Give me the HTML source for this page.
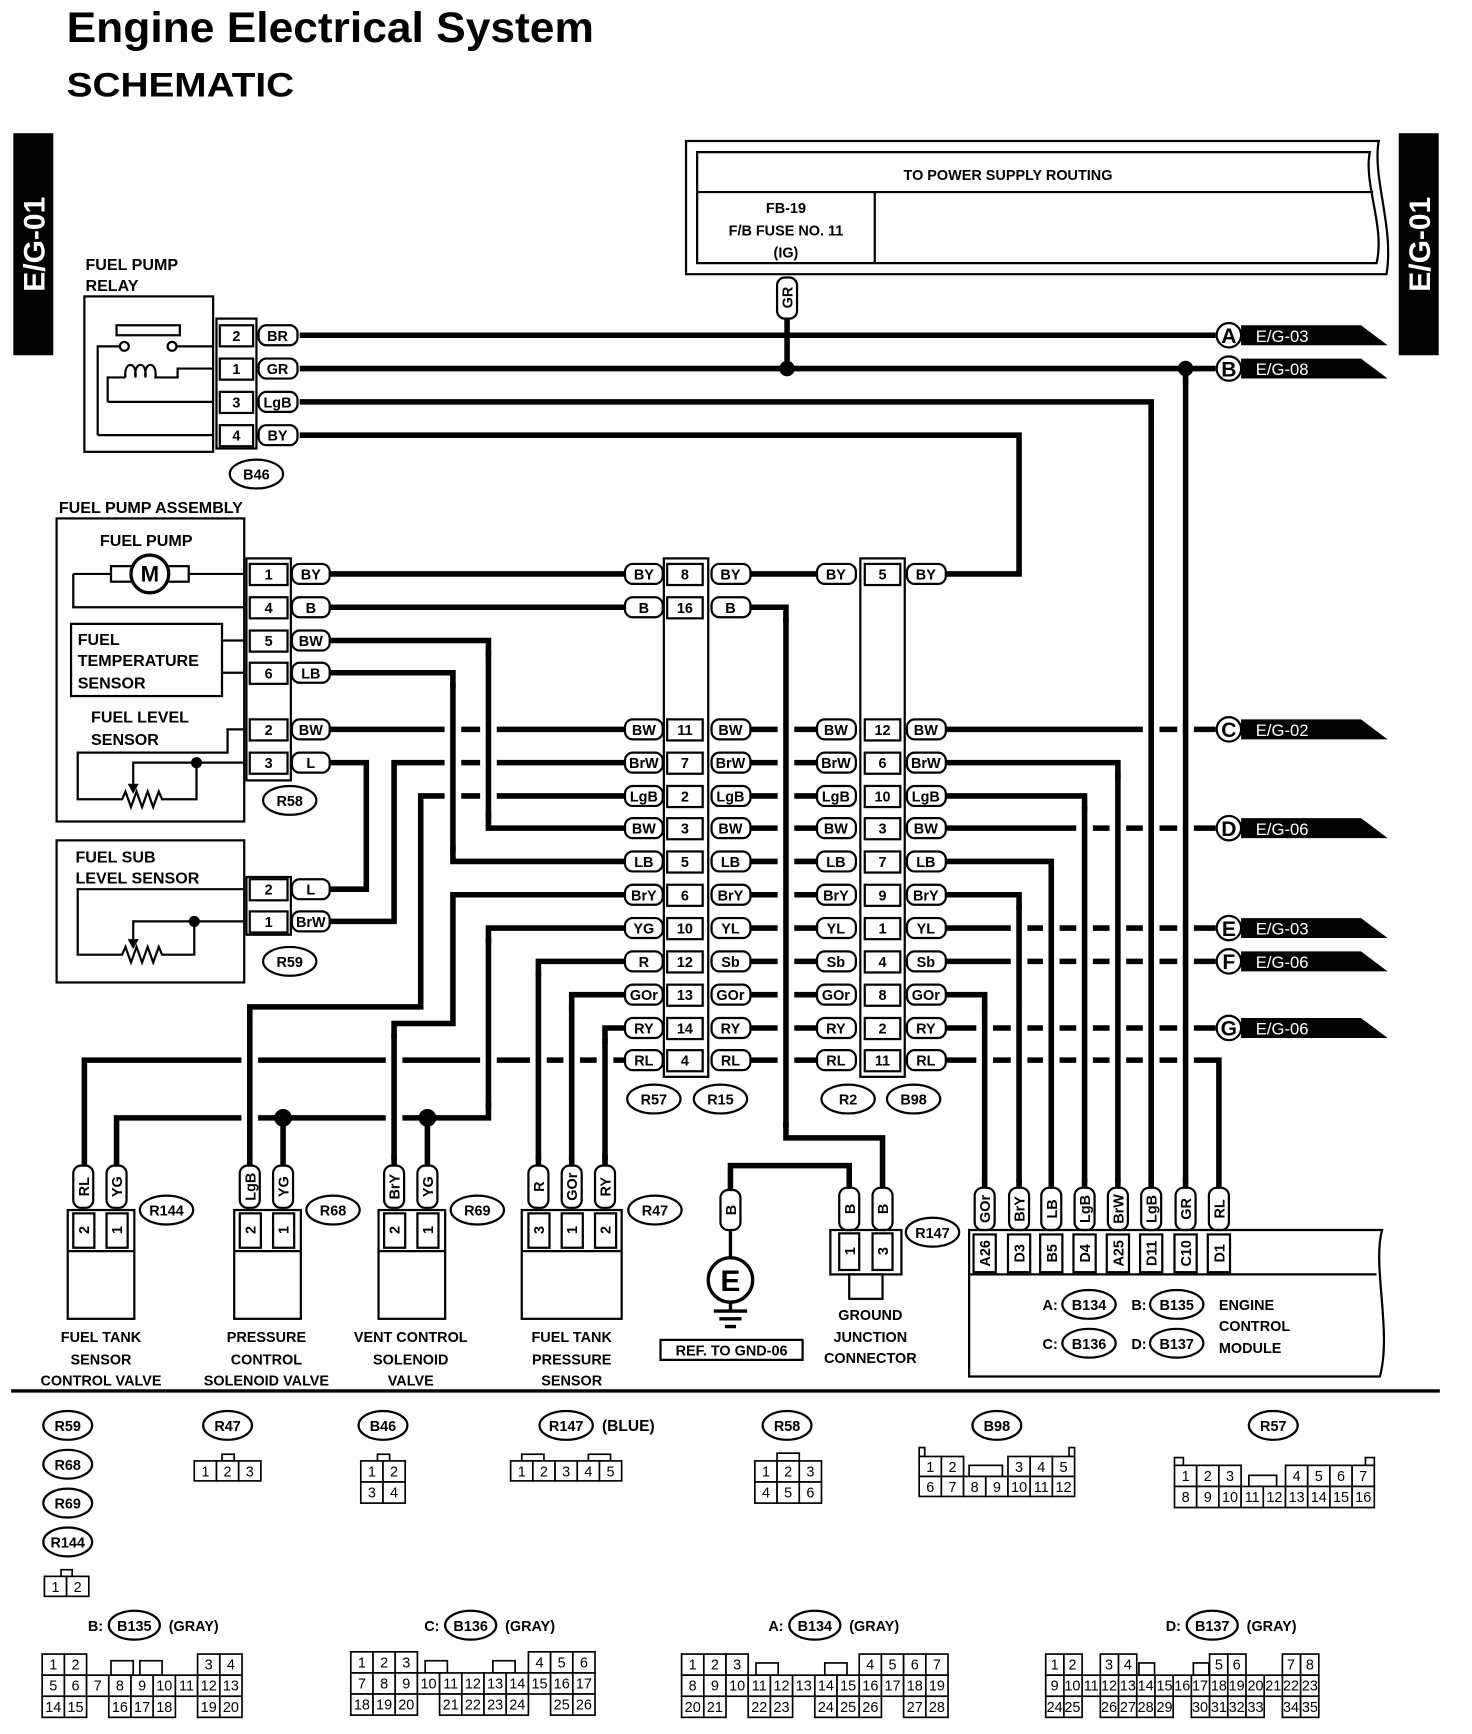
<!DOCTYPE html>
<html><head><meta charset="utf-8"><style>
html,body{margin:0;padding:0;background:#fff}
svg{display:block}
text{font-family:"Liberation Sans",Arial,sans-serif;font-weight:bold;font-size:13px;text-anchor:middle;fill:#000}
.w{stroke:#000;stroke-width:5;fill:none;stroke-linejoin:miter;stroke-linecap:butt}
.h{stroke:#fff;stroke-width:15;fill:none}
.p{fill:#fff;stroke:#000;stroke-width:2}
.b{fill:#fff;stroke:#000;stroke-width:2}
.t{fill:none;stroke:#000;stroke-width:2}
.l{text-anchor:start;font-size:14.5px}
.n{font-weight:normal;font-size:13px}
.c{fill:#fff;stroke:#000;stroke-width:1.5}
</style></head><body>
<svg width="1472" height="1734" viewBox="0 0 1326 1562" preserveAspectRatio="none" xmlns="http://www.w3.org/2000/svg">
<rect width="1326" height="1562" fill="#fff"/>
<text x="60" y="38" textLength="475" lengthAdjust="spacingAndGlyphs" style="font-size:38px;text-anchor:start">Engine Electrical System</text>
<text x="60" y="87" textLength="205" lengthAdjust="spacingAndGlyphs" style="font-size:31px;text-anchor:start">SCHEMATIC</text>
<rect x="12" y="120" width="36" height="200" fill="#000"/>
<text x="30" y="230" transform="rotate(-90 30 220)" style="fill:#fff;font-size:27px">E/G-01</text>
<rect x="1260" y="120" width="36" height="200" fill="#000"/>
<text x="1278" y="230" transform="rotate(-90 1278 220)" style="fill:#fff;font-size:27px">E/G-01</text>

<!-- power box -->
<path d="M618 127 H1242 C1236 160 1256 205 1249 247 H618 Z" class="t"/>
<path d="M628 137 H1234 C1228 165 1248 205 1240 237 H628 Z" class="t"/>
<line x1="628" y1="173" x2="1237" y2="173" class="t"/>
<line x1="788" y1="173" x2="788" y2="237" class="t"/>
<text x="908" y="162">TO POWER SUPPLY ROUTING</text>
<text x="708" y="192">FB-19</text>
<text x="708" y="212">F/B FUSE NO. 11</text>
<text x="708" y="232">(IG)</text>

<!-- wires -->
<g class="w">
<path d="M270 302 H1095"/><path d="M270 332 H1095"/>
<path d="M270 362 H1037 V1070"/>
<path d="M270 392 H918 V517 H852"/>
<path d="M709 287 V332"/><path d="M1068 332 V1070"/>
<path d="M297 517 H563"/><path d="M297 547 H563"/>
<path d="M297 577 H440 V746 H563"/>
<path d="M297 606 H408 V776 H563"/>
<path d="M297 657 H563"/>
<path d="M297 687 H330 V801 H297"/>
<path d="M297 830 H355 V687 H563"/>
<path d="M563 717 H379 V907 H225 V1050"/>
<path d="M563 806 H408 V922 H355 V1050"/>
<path d="M563 836 H440 V1007 H105 V1050"/>
<path d="M255 1007 V1050"/><path d="M385 1007 V1050"/>
<path d="M563 866 H485 V1050"/>
<path d="M563 896 H515 V1050"/>
<path d="M563 926 H545 V1050"/>
<path d="M563 955 H76 V1050"/>
<path d="M676 517 H736"/>
<path d="M676 657 H736 M676 687 H736 M676 717 H736 M676 746 H736 M676 776 H736 M676 806 H736 M676 836 H736 M676 866 H736 M676 896 H736 M676 926 H736 M676 955 H736"/>
<path d="M676 547 H708 V1025 H795 V1070"/>
<path d="M658 1072 V1050 H765 V1070"/>
<path d="M852 657 H1095"/>
<path d="M852 687 H1007 V1070"/>
<path d="M852 717 H977 V1070"/>
<path d="M852 746 H1095"/>
<path d="M852 776 H947 V1070"/>
<path d="M852 806 H918 V1070"/>
<path d="M852 836 H1095"/><path d="M852 866 H1095"/>
<path d="M852 896 H887 V1070"/>
<path d="M852 926 H1095"/>
<path d="M852 955 H1098 V1070"/>
</g>
<g class="h">
<path d="M408 620 V762 M440 591 V732 M225 921 V1040 M355 936 V1040 M440 850 V993 M485 880 V1040 M515 910 V1040 M545 940 V1040 M708 561 V1011 M918 820 V1062 M947 790 V1062 M977 731 V1062 M1007 701 V1062 M1037 376 V1062 M1068 346 V1062 M887 910 V1062"/>
</g>
<g class="w">
<path d="M408 615 V767 M440 586 V737 M225 916 V1045 M355 931 V1045 M440 845 V998 M485 875 V1045 M515 905 V1045 M545 935 V1045 M708 556 V1016 M918 815 V1065 M947 785 V1065 M977 726 V1065 M1007 696 V1065 M1037 371 V1065 M1068 341 V1065 M887 905 V1065"/>
</g>
<circle cx="709" cy="332" r="7"/><circle cx="1068" cy="332" r="7"/>
<circle cx="255" cy="1007" r="8"/><circle cx="385" cy="1007" r="8"/>

<!-- right flags -->
<g>
<polygon points="1118,293 1226,293 1250,311 1118,311"/><circle cx="1107" cy="302" r="11" class="b"/><text x="1107" y="309" style="font-size:19px">A</text><text x="1155" y="308" style="fill:#fff;font-weight:normal;font-size:15px">E/G-03</text>
<polygon points="1118,323 1226,323 1250,341 1118,341"/><circle cx="1107" cy="332" r="11" class="b"/><text x="1107" y="339" style="font-size:19px">B</text><text x="1155" y="338" style="fill:#fff;font-weight:normal;font-size:15px">E/G-08</text>
<polygon points="1118,648 1226,648 1250,666 1118,666"/><circle cx="1107" cy="657" r="11" class="b"/><text x="1107" y="664" style="font-size:19px">C</text><text x="1155" y="663" style="fill:#fff;font-weight:normal;font-size:15px">E/G-02</text>
<polygon points="1118,737 1226,737 1250,755 1118,755"/><circle cx="1107" cy="746" r="11" class="b"/><text x="1107" y="753" style="font-size:19px">D</text><text x="1155" y="752" style="fill:#fff;font-weight:normal;font-size:15px">E/G-06</text>
<polygon points="1118,827 1226,827 1250,845 1118,845"/><circle cx="1107" cy="836" r="11" class="b"/><text x="1107" y="843" style="font-size:19px">E</text><text x="1155" y="842" style="fill:#fff;font-weight:normal;font-size:15px">E/G-03</text>
<polygon points="1118,857 1226,857 1250,875 1118,875"/><circle cx="1107" cy="866" r="11" class="b"/><text x="1107" y="873" style="font-size:19px">F</text><text x="1155" y="872" style="fill:#fff;font-weight:normal;font-size:15px">E/G-06</text>
<polygon points="1118,917 1226,917 1250,935 1118,935"/><circle cx="1107" cy="926" r="11" class="b"/><text x="1107" y="933" style="font-size:19px">G</text><text x="1155" y="932" style="fill:#fff;font-weight:normal;font-size:15px">E/G-06</text>
</g>

<!-- relay -->
<text x="77" y="243" class="l">FUEL PUMP</text><text x="77" y="262" class="l">RELAY</text>
<rect x="76" y="267" width="116" height="140" class="t"/>
<rect x="105" y="293" width="57" height="9" class="t"/>
<g class="t"><path d="M88 392 H192 M88 392 V312 H108 M159 312 H192 M97 362 H192 M97 362 V340 H113 M145 340 H160 V332 H192"/>
<path d="M113 340 C111 325 124 325 122 340 C120 325 133 325 131 340 C129 325 142 325 140 340 H145"/></g>
<circle cx="112" cy="312" r="4" class="b"/><circle cx="155" cy="312" r="4" class="b"/>
<rect x="195" y="287" width="36" height="117" class="t"/>
<g class="b"><rect x="198" y="293" width="30" height="19"/><rect x="198" y="323" width="30" height="19"/><rect x="198" y="353" width="30" height="19"/><rect x="198" y="383" width="30" height="19"/></g>
<text x="213" y="307">2</text><text x="213" y="337">1</text><text x="213" y="367">3</text><text x="213" y="397">4</text>
<g class="p"><rect x="233" y="293" width="35" height="18" rx="7"/><rect x="233" y="323" width="35" height="18" rx="7"/><rect x="233" y="353" width="35" height="18" rx="7"/><rect x="233" y="383" width="35" height="18" rx="7"/></g>
<text x="250" y="307">BR</text><text x="250" y="337">GR</text><text x="250" y="367">LgB</text><text x="250" y="397">BY</text>
<ellipse cx="231" cy="427" rx="24" ry="13" class="b"/><text x="231" y="432">B46</text>
<rect x="700" y="250" width="18" height="37" rx="7" class="p"/><text x="709" y="273" transform="rotate(-90 709 268)">GR</text>

<!-- fuel pump assembly -->
<text x="53" y="462" class="l">FUEL PUMP ASSEMBLY</text>
<rect x="51" y="467" width="169" height="273" class="t"/>
<text x="90" y="492" class="l">FUEL PUMP</text>
<g class="t"><path d="M66 517 V547 H220 M66 517 H100 M170 517 H220"/>
<rect x="100" y="510" width="70" height="14"/></g>
<circle cx="135" cy="517" r="17" class="b" style="stroke-width:3"/><text x="135" y="524" style="font-size:20px">M</text>
<rect x="64" y="562" width="136" height="65" class="t"/>
<text x="70" y="581" class="l">FUEL</text><text x="70" y="600" class="l">TEMPERATURE</text><text x="70" y="620" class="l">SENSOR</text>
<path d="M200 577 H220 M200 606 H220" class="t"/>
<text x="82" y="651" class="l">FUEL LEVEL</text><text x="82" y="671" class="l">SENSOR</text>
<path class="t" d="M220 657 H205 V678 H70 V720 H110 L113 713 L118 727 L123 713 L128 727 L133 713 L138 727 L143 713 L146 720 H177 V687 H220 M177 687 H120 V708"/>
<polygon points="115,706 125,706 120,715"/><circle cx="177" cy="687" r="5"/>
<rect x="51" y="757" width="169" height="128" class="t"/>
<text x="68" y="777" class="l">FUEL SUB</text><text x="68" y="796" class="l">LEVEL SENSOR</text>
<path class="t" d="M220 801 H70 V860 H110 L113 853 L118 867 L123 853 L128 867 L133 853 L138 867 L143 853 L146 860 H175 V830 H220 M175 830 H120 V848"/>
<polygon points="115,846 125,846 120,855"/><circle cx="175" cy="830" r="5"/>

<!-- R58 / R59 -->
<rect x="222" y="503" width="40" height="200" class="t"/>
<rect x="222" y="790" width="40" height="52" class="t"/>
<g class="b">
<rect x="225" y="508" width="34" height="19"/><rect x="225" y="538" width="34" height="19"/><rect x="225" y="568" width="34" height="19"/><rect x="225" y="597" width="34" height="19"/><rect x="225" y="648" width="34" height="19"/><rect x="225" y="678" width="34" height="19"/><rect x="225" y="792" width="34" height="19"/><rect x="225" y="821" width="34" height="19"/></g>
<text x="242" y="522">1</text><text x="242" y="552">4</text><text x="242" y="582">5</text><text x="242" y="611">6</text><text x="242" y="662">2</text><text x="242" y="692">3</text><text x="242" y="806">2</text><text x="242" y="835">1</text>
<g class="p">
<rect x="263" y="508" width="34" height="18" rx="7"/><rect x="263" y="538" width="34" height="18" rx="7"/><rect x="263" y="568" width="34" height="18" rx="7"/><rect x="263" y="597" width="34" height="18" rx="7"/><rect x="263" y="648" width="34" height="18" rx="7"/><rect x="263" y="678" width="34" height="18" rx="7"/><rect x="263" y="792" width="34" height="18" rx="7"/><rect x="263" y="821" width="34" height="18" rx="7"/></g>
<text x="280" y="522">BY</text><text x="280" y="552">B</text><text x="280" y="582">BW</text><text x="280" y="611">LB</text><text x="280" y="662">BW</text><text x="280" y="692">L</text><text x="280" y="806">L</text><text x="280" y="835">BrW</text>
<ellipse cx="261" cy="721" rx="24" ry="13" class="b"/><text x="261" y="726">R58</text>
<ellipse cx="261" cy="866" rx="24" ry="13" class="b"/><text x="261" y="871">R59</text>

<!-- R57/R15 and R2/B98 -->
<rect x="598" y="503" width="40" height="467" class="t"/>
<rect x="775" y="503" width="40" height="467" class="t"/>
<g class="b">
<rect x="601" y="508" width="32" height="19"/><rect x="601" y="538" width="32" height="19"/>
<rect x="601" y="648" width="32" height="19"/><rect x="601" y="678" width="32" height="19"/><rect x="601" y="708" width="32" height="19"/><rect x="601" y="737" width="32" height="19"/><rect x="601" y="767" width="32" height="19"/><rect x="601" y="797" width="32" height="19"/><rect x="601" y="827" width="32" height="19"/><rect x="601" y="857" width="32" height="19"/><rect x="601" y="887" width="32" height="19"/><rect x="601" y="917" width="32" height="19"/><rect x="601" y="946" width="32" height="19"/>
<rect x="779" y="508" width="32" height="19"/>
<rect x="779" y="648" width="32" height="19"/><rect x="779" y="678" width="32" height="19"/><rect x="779" y="708" width="32" height="19"/><rect x="779" y="737" width="32" height="19"/><rect x="779" y="767" width="32" height="19"/><rect x="779" y="797" width="32" height="19"/><rect x="779" y="827" width="32" height="19"/><rect x="779" y="857" width="32" height="19"/><rect x="779" y="887" width="32" height="19"/><rect x="779" y="917" width="32" height="19"/><rect x="779" y="946" width="32" height="19"/>
</g>
<g>
<text x="617" y="522">8</text><text x="617" y="552">16</text><text x="617" y="662">11</text><text x="617" y="692">7</text><text x="617" y="722">2</text><text x="617" y="751">3</text><text x="617" y="781">5</text><text x="617" y="811">6</text><text x="617" y="841">10</text><text x="617" y="871">12</text><text x="617" y="901">13</text><text x="617" y="931">14</text><text x="617" y="960">4</text>
<text x="795" y="522">5</text><text x="795" y="662">12</text><text x="795" y="692">6</text><text x="795" y="722">10</text><text x="795" y="751">3</text><text x="795" y="781">7</text><text x="795" y="811">9</text><text x="795" y="841">1</text><text x="795" y="871">4</text><text x="795" y="901">8</text><text x="795" y="931">2</text><text x="795" y="960">11</text>
</g>
<g class="p">
<rect x="563" y="508" width="34" height="18" rx="7"/><rect x="563" y="538" width="34" height="18" rx="7"/><rect x="563" y="648" width="34" height="18" rx="7"/><rect x="563" y="678" width="34" height="18" rx="7"/><rect x="563" y="708" width="34" height="18" rx="7"/><rect x="563" y="737" width="34" height="18" rx="7"/><rect x="563" y="767" width="34" height="18" rx="7"/><rect x="563" y="797" width="34" height="18" rx="7"/><rect x="563" y="827" width="34" height="18" rx="7"/><rect x="563" y="857" width="34" height="18" rx="7"/><rect x="563" y="887" width="34" height="18" rx="7"/><rect x="563" y="917" width="34" height="18" rx="7"/><rect x="563" y="946" width="34" height="18" rx="7"/>
<rect x="641" y="508" width="35" height="18" rx="7"/><rect x="641" y="538" width="35" height="18" rx="7"/><rect x="641" y="648" width="35" height="18" rx="7"/><rect x="641" y="678" width="35" height="18" rx="7"/><rect x="641" y="708" width="35" height="18" rx="7"/><rect x="641" y="737" width="35" height="18" rx="7"/><rect x="641" y="767" width="35" height="18" rx="7"/><rect x="641" y="797" width="35" height="18" rx="7"/><rect x="641" y="827" width="35" height="18" rx="7"/><rect x="641" y="857" width="35" height="18" rx="7"/><rect x="641" y="887" width="35" height="18" rx="7"/><rect x="641" y="917" width="35" height="18" rx="7"/><rect x="641" y="946" width="35" height="18" rx="7"/>
<rect x="736" y="508" width="35" height="18" rx="7"/><rect x="736" y="648" width="35" height="18" rx="7"/><rect x="736" y="678" width="35" height="18" rx="7"/><rect x="736" y="708" width="35" height="18" rx="7"/><rect x="736" y="737" width="35" height="18" rx="7"/><rect x="736" y="767" width="35" height="18" rx="7"/><rect x="736" y="797" width="35" height="18" rx="7"/><rect x="736" y="827" width="35" height="18" rx="7"/><rect x="736" y="857" width="35" height="18" rx="7"/><rect x="736" y="887" width="35" height="18" rx="7"/><rect x="736" y="917" width="35" height="18" rx="7"/><rect x="736" y="946" width="35" height="18" rx="7"/>
<rect x="817" y="508" width="35" height="18" rx="7"/><rect x="817" y="648" width="35" height="18" rx="7"/><rect x="817" y="678" width="35" height="18" rx="7"/><rect x="817" y="708" width="35" height="18" rx="7"/><rect x="817" y="737" width="35" height="18" rx="7"/><rect x="817" y="767" width="35" height="18" rx="7"/><rect x="817" y="797" width="35" height="18" rx="7"/><rect x="817" y="827" width="35" height="18" rx="7"/><rect x="817" y="857" width="35" height="18" rx="7"/><rect x="817" y="887" width="35" height="18" rx="7"/><rect x="817" y="917" width="35" height="18" rx="7"/><rect x="817" y="946" width="35" height="18" rx="7"/>
</g>
<g>
<text x="580" y="522">BY</text><text x="580" y="552">B</text><text x="580" y="662">BW</text><text x="580" y="692">BrW</text><text x="580" y="722">LgB</text><text x="580" y="751">BW</text><text x="580" y="781">LB</text><text x="580" y="811">BrY</text><text x="580" y="841">YG</text><text x="580" y="871">R</text><text x="580" y="901">GOr</text><text x="580" y="931">RY</text><text x="580" y="960">RL</text>
<text x="658" y="522">BY</text><text x="658" y="552">B</text><text x="658" y="662">BW</text><text x="658" y="692">BrW</text><text x="658" y="722">LgB</text><text x="658" y="751">BW</text><text x="658" y="781">LB</text><text x="658" y="811">BrY</text><text x="658" y="841">YL</text><text x="658" y="871">Sb</text><text x="658" y="901">GOr</text><text x="658" y="931">RY</text><text x="658" y="960">RL</text>
<text x="753" y="522">BY</text><text x="753" y="662">BW</text><text x="753" y="692">BrW</text><text x="753" y="722">LgB</text><text x="753" y="751">BW</text><text x="753" y="781">LB</text><text x="753" y="811">BrY</text><text x="753" y="841">YL</text><text x="753" y="871">Sb</text><text x="753" y="901">GOr</text><text x="753" y="931">RY</text><text x="753" y="960">RL</text>
<text x="834" y="522">BY</text><text x="834" y="662">BW</text><text x="834" y="692">BrW</text><text x="834" y="722">LgB</text><text x="834" y="751">BW</text><text x="834" y="781">LB</text><text x="834" y="811">BrY</text><text x="834" y="841">YL</text><text x="834" y="871">Sb</text><text x="834" y="901">GOr</text><text x="834" y="931">RY</text><text x="834" y="960">RL</text>
</g>
<g class="b"><ellipse cx="589" cy="990" rx="24" ry="13"/><ellipse cx="649" cy="990" rx="24" ry="13"/><ellipse cx="764" cy="990" rx="24" ry="13"/><ellipse cx="823" cy="990" rx="24" ry="13"/></g>
<text x="589" y="995">R57</text><text x="649" y="995">R15</text><text x="764" y="995">R2</text><text x="823" y="995">B98</text>

<!-- bottom components -->
<g class="p">
<rect x="66" y="1050" width="18" height="38" rx="7"/><rect x="96" y="1050" width="18" height="38" rx="7"/>
<rect x="216" y="1050" width="18" height="38" rx="7"/><rect x="246" y="1050" width="18" height="38" rx="7"/>
<rect x="346" y="1050" width="18" height="38" rx="7"/><rect x="376" y="1050" width="18" height="38" rx="7"/>
<rect x="476" y="1050" width="18" height="38" rx="7"/><rect x="506" y="1050" width="18" height="38" rx="7"/><rect x="536" y="1050" width="18" height="38" rx="7"/>
<rect x="649" y="1072" width="18" height="36" rx="7"/>
<rect x="756" y="1070" width="18" height="38" rx="7"/><rect x="786" y="1070" width="18" height="38" rx="7"/>
<rect x="878" y="1070" width="18" height="38" rx="7"/><rect x="909" y="1070" width="18" height="38" rx="7"/><rect x="938" y="1070" width="18" height="38" rx="7"/><rect x="968" y="1070" width="18" height="38" rx="7"/><rect x="998" y="1070" width="18" height="38" rx="7"/><rect x="1028" y="1070" width="18" height="38" rx="7"/><rect x="1059" y="1070" width="18" height="38" rx="7"/><rect x="1089" y="1070" width="18" height="38" rx="7"/>
</g>
<g>
<text x="75" y="1074" transform="rotate(-90 75 1069)">RL</text><text x="105" y="1074" transform="rotate(-90 105 1069)">YG</text>
<text x="225" y="1074" transform="rotate(-90 225 1069)">LgB</text><text x="255" y="1074" transform="rotate(-90 255 1069)">YG</text>
<text x="355" y="1074" transform="rotate(-90 355 1069)">BrY</text><text x="385" y="1074" transform="rotate(-90 385 1069)">YG</text>
<text x="485" y="1074" transform="rotate(-90 485 1069)">R</text><text x="515" y="1074" transform="rotate(-90 515 1069)">GOr</text><text x="545" y="1074" transform="rotate(-90 545 1069)">RY</text>
<text x="658" y="1095" transform="rotate(-90 658 1090)">B</text>
<text x="765" y="1094" transform="rotate(-90 765 1089)">B</text><text x="795" y="1094" transform="rotate(-90 795 1089)">B</text>
<text x="887" y="1094" transform="rotate(-90 887 1089)">GOr</text><text x="918" y="1094" transform="rotate(-90 918 1089)">BrY</text><text x="947" y="1094" transform="rotate(-90 947 1089)">LB</text><text x="977" y="1094" transform="rotate(-90 977 1089)">LgB</text><text x="1007" y="1094" transform="rotate(-90 1007 1089)">BrW</text><text x="1037" y="1094" transform="rotate(-90 1037 1089)">LgB</text><text x="1068" y="1094" transform="rotate(-90 1068 1089)">GR</text><text x="1098" y="1094" transform="rotate(-90 1098 1089)">RL</text>
</g>
<g class="t">
<rect x="61" y="1090" width="60" height="98"/><line x1="61" y1="1127" x2="121" y2="1127"/>
<rect x="211" y="1090" width="60" height="98"/><line x1="211" y1="1127" x2="271" y2="1127"/>
<rect x="341" y="1090" width="60" height="98"/><line x1="341" y1="1127" x2="401" y2="1127"/>
<rect x="470" y="1090" width="90" height="98"/><line x1="470" y1="1127" x2="560" y2="1127"/>
<rect x="66" y="1093" width="19" height="31"/><rect x="96" y="1093" width="19" height="31"/>
<rect x="216" y="1093" width="19" height="31"/><rect x="246" y="1093" width="19" height="31"/>
<rect x="346" y="1093" width="19" height="31"/><rect x="376" y="1093" width="19" height="31"/>
<rect x="476" y="1093" width="19" height="31"/><rect x="506" y="1093" width="19" height="31"/><rect x="536" y="1093" width="19" height="31"/>
</g>
<g>
<text x="75" y="1113" transform="rotate(-90 75 1108)">2</text><text x="105" y="1113" transform="rotate(-90 105 1108)">1</text>
<text x="225" y="1113" transform="rotate(-90 225 1108)">2</text><text x="255" y="1113" transform="rotate(-90 255 1108)">1</text>
<text x="355" y="1113" transform="rotate(-90 355 1108)">2</text><text x="385" y="1113" transform="rotate(-90 385 1108)">1</text>
<text x="485" y="1113" transform="rotate(-90 485 1108)">3</text><text x="515" y="1113" transform="rotate(-90 515 1108)">1</text><text x="545" y="1113" transform="rotate(-90 545 1108)">2</text>
</g>
<g class="b"><ellipse cx="150" cy="1090" rx="24" ry="13"/><ellipse cx="300" cy="1090" rx="24" ry="13"/><ellipse cx="430" cy="1090" rx="24" ry="13"/><ellipse cx="590" cy="1090" rx="24" ry="13"/><ellipse cx="840" cy="1110" rx="24" ry="13"/></g>
<text x="150" y="1095">R144</text><text x="300" y="1095">R68</text><text x="430" y="1095">R69</text><text x="590" y="1095">R47</text><text x="840" y="1115">R147</text>
<g style="font-size:14.5px">
<text x="91" y="1209">FUEL TANK</text><text x="91" y="1229">SENSOR</text><text x="91" y="1248">CONTROL VALVE</text>
<text x="240" y="1209">PRESSURE</text><text x="240" y="1229">CONTROL</text><text x="240" y="1248">SOLENOID VALVE</text>
<text x="370" y="1209">VENT CONTROL</text><text x="370" y="1229">SOLENOID</text><text x="370" y="1248">VALVE</text>
<text x="515" y="1209">FUEL TANK</text><text x="515" y="1229">PRESSURE</text><text x="515" y="1248">SENSOR</text>
<text x="784" y="1189">GROUND</text><text x="784" y="1209">JUNCTION</text><text x="784" y="1228">CONNECTOR</text>
</g>
<!-- ground -->
<path class="w" style="stroke-width:3" d="M658 1108 V1133 M658 1173 V1181 M643 1181 H673 M648 1188 H668 M653 1195 H663"/>
<circle cx="658" cy="1153" r="20" class="b" style="stroke-width:3"/><text x="658" y="1163" style="font-size:27px">E</text>
<rect x="595" y="1207" width="128" height="18" class="t"/><text x="659" y="1221">REF. TO GND-06</text>
<!-- R147 -->
<g class="t"><rect x="748" y="1108" width="64" height="40"/><rect x="756" y="1111" width="18" height="33"/><rect x="786" y="1111" width="18" height="33"/><rect x="765" y="1148" width="30" height="22"/></g>
<text x="765" y="1132" transform="rotate(-90 765 1127)">1</text><text x="795" y="1132" transform="rotate(-90 795 1127)">3</text>

<!-- ECM -->
<path class="t" d="M873 1240 V1108 H1245 C1236 1140 1254 1200 1243 1240 Z"/>
<line x1="873" y1="1148" x2="1240" y2="1148" class="t"/>
<g class="t">
<rect x="877" y="1112" width="20" height="34"/><rect x="908" y="1112" width="20" height="34"/><rect x="937" y="1112" width="20" height="34"/><rect x="967" y="1112" width="20" height="34"/><rect x="997" y="1112" width="20" height="34"/><rect x="1027" y="1112" width="20" height="34"/><rect x="1058" y="1112" width="20" height="34"/><rect x="1088" y="1112" width="20" height="34"/>
</g>
<g>
<text x="887" y="1134" transform="rotate(-90 887 1129)">A26</text><text x="918" y="1134" transform="rotate(-90 918 1129)">D3</text><text x="947" y="1134" transform="rotate(-90 947 1129)">B5</text><text x="977" y="1134" transform="rotate(-90 977 1129)">D4</text><text x="1007" y="1134" transform="rotate(-90 1007 1129)">A25</text><text x="1037" y="1134" transform="rotate(-90 1037 1129)">D11</text><text x="1068" y="1134" transform="rotate(-90 1068 1129)">C10</text><text x="1098" y="1134" transform="rotate(-90 1098 1129)">D1</text>
</g>
<g class="b"><ellipse cx="981" cy="1175" rx="24" ry="13"/><ellipse cx="1060" cy="1175" rx="24" ry="13"/><ellipse cx="981" cy="1210" rx="24" ry="13"/><ellipse cx="1060" cy="1210" rx="24" ry="13"/></g>
<g style="font-size:14.5px">
<text x="946" y="1180">A:</text><text x="981" y="1180">B134</text><text x="1026" y="1180">B:</text><text x="1060" y="1180">B135</text>
<text x="946" y="1215">C:</text><text x="981" y="1215">B136</text><text x="1026" y="1215">D:</text><text x="1060" y="1215">B137</text>
<text x="1098" y="1180" style="text-anchor:start">ENGINE</text><text x="1098" y="1199" style="text-anchor:start">CONTROL</text><text x="1098" y="1219" style="text-anchor:start">MODULE</text>
</g>
<line x1="10" y1="1253" x2="1297" y2="1253" stroke="#000" stroke-width="3"/>

<!-- connector face views -->
<g class="b"><ellipse cx="61" cy="1284" rx="22" ry="13"/><ellipse cx="61" cy="1319" rx="22" ry="13"/><ellipse cx="61" cy="1354" rx="22" ry="13"/><ellipse cx="61" cy="1389" rx="22" ry="13"/>
<ellipse cx="205" cy="1284" rx="22" ry="13"/><ellipse cx="345" cy="1284" rx="22" ry="13"/><ellipse cx="510" cy="1284" rx="24" ry="13"/><ellipse cx="709" cy="1284" rx="22" ry="13"/><ellipse cx="898" cy="1284" rx="22" ry="13"/><ellipse cx="1147" cy="1284" rx="22" ry="13"/></g>
<text x="61" y="1289">R59</text><text x="61" y="1324">R68</text><text x="61" y="1359">R69</text><text x="61" y="1394">R144</text>
<text x="205" y="1289">R47</text><text x="345" y="1289">B46</text><text x="510" y="1289">R147</text><text x="566" y="1289" style="font-size:14px">(BLUE)</text><text x="709" y="1289">R58</text><text x="898" y="1289">B98</text><text x="1147" y="1289">R57</text>

<g class="c">
<rect x="55" y="1414" width="10" height="6"/><rect x="40" y="1420" width="20" height="18"/><rect x="60" y="1420" width="20" height="18"/>
<rect x="200" y="1310" width="11" height="6"/><rect x="175" y="1316" width="20" height="18"/><rect x="195" y="1316" width="20" height="18"/><rect x="215" y="1316" width="20" height="18"/>
<rect x="340" y="1310" width="11" height="6"/><rect x="325" y="1316" width="20" height="19"/><rect x="345" y="1316" width="20" height="19"/><rect x="325" y="1335" width="20" height="19"/><rect x="345" y="1335" width="20" height="19"/>
<rect x="470" y="1310" width="20" height="6"/><rect x="530" y="1310" width="20" height="6"/>
<rect x="460" y="1316" width="20" height="18"/><rect x="480" y="1316" width="20" height="18"/><rect x="500" y="1316" width="20" height="18"/><rect x="520" y="1316" width="20" height="18"/><rect x="540" y="1316" width="20" height="18"/>
<rect x="700" y="1309" width="20" height="7"/>
<rect x="680" y="1316" width="20" height="19"/><rect x="700" y="1316" width="20" height="19"/><rect x="720" y="1316" width="20" height="19"/><rect x="680" y="1335" width="20" height="19"/><rect x="700" y="1335" width="20" height="19"/><rect x="720" y="1335" width="20" height="19"/>
</g>
<g class="n">
<text x="50" y="1434" class="n">1</text><text x="70" y="1434" class="n">2</text>
<text x="185" y="1330" class="n">1</text><text x="205" y="1330" class="n">2</text><text x="225" y="1330" class="n">3</text>
<text x="335" y="1330" class="n">1</text><text x="355" y="1330" class="n">2</text><text x="335" y="1349" class="n">3</text><text x="355" y="1349" class="n">4</text>
<text x="470" y="1330" class="n">1</text><text x="490" y="1330" class="n">2</text><text x="510" y="1330" class="n">3</text><text x="530" y="1330" class="n">4</text><text x="550" y="1330" class="n">5</text>
<text x="690" y="1330" class="n">1</text><text x="710" y="1330" class="n">2</text><text x="730" y="1330" class="n">3</text><text x="690" y="1349" class="n">4</text><text x="710" y="1349" class="n">5</text><text x="730" y="1349" class="n">6</text>
</g>
<!-- B98 -->
<g class="c">
<rect x="828" y="1304" width="5" height="8"/><rect x="963" y="1304" width="5" height="8"/>
<rect x="828" y="1312" width="20" height="18"/><rect x="848" y="1312" width="20" height="18"/><rect x="873" y="1320" width="30" height="10"/><rect x="908" y="1312" width="20" height="18"/><rect x="928" y="1312" width="20" height="18"/><rect x="948" y="1312" width="20" height="18"/>
<rect x="828" y="1330" width="20" height="18"/><rect x="848" y="1330" width="20" height="18"/><rect x="868" y="1330" width="20" height="18"/><rect x="888" y="1330" width="20" height="18"/><rect x="908" y="1330" width="20" height="18"/><rect x="928" y="1330" width="20" height="18"/><rect x="948" y="1330" width="20" height="18"/>
</g>
<g>
<text x="838" y="1326" class="n">1</text><text x="858" y="1326" class="n">2</text><text x="918" y="1326" class="n">3</text><text x="938" y="1326" class="n">4</text><text x="958" y="1326" class="n">5</text>
<text x="838" y="1344" class="n">6</text><text x="858" y="1344" class="n">7</text><text x="878" y="1344" class="n">8</text><text x="898" y="1344" class="n">9</text><text x="918" y="1344" class="n">10</text><text x="938" y="1344" class="n">11</text><text x="958" y="1344" class="n">12</text>
</g>
<!-- R57 face -->
<g class="c">
<rect x="1058" y="1313" width="8" height="7"/><rect x="1230" y="1313" width="8" height="7"/>
<rect x="1058" y="1320" width="20" height="19"/><rect x="1078" y="1320" width="20" height="19"/><rect x="1098" y="1320" width="20" height="19"/><rect x="1125" y="1329" width="25" height="10"/><rect x="1158" y="1320" width="20" height="19"/><rect x="1178" y="1320" width="20" height="19"/><rect x="1198" y="1320" width="20" height="19"/><rect x="1218" y="1320" width="20" height="19"/>
<rect x="1058" y="1339" width="20" height="19"/><rect x="1078" y="1339" width="20" height="19"/><rect x="1098" y="1339" width="20" height="19"/><rect x="1118" y="1339" width="20" height="19"/><rect x="1138" y="1339" width="20" height="19"/><rect x="1158" y="1339" width="20" height="19"/><rect x="1178" y="1339" width="20" height="19"/><rect x="1198" y="1339" width="20" height="19"/><rect x="1218" y="1339" width="20" height="19"/>
</g>
<g>
<text x="1068" y="1334" class="n">1</text><text x="1088" y="1334" class="n">2</text><text x="1108" y="1334" class="n">3</text><text x="1168" y="1334" class="n">4</text><text x="1188" y="1334" class="n">5</text><text x="1208" y="1334" class="n">6</text><text x="1228" y="1334" class="n">7</text>
<text x="1068" y="1353" class="n">8</text><text x="1088" y="1353" class="n">9</text><text x="1108" y="1353" class="n">10</text><text x="1128" y="1353" class="n">11</text><text x="1148" y="1353" class="n">12</text><text x="1168" y="1353" class="n">13</text><text x="1188" y="1353" class="n">14</text><text x="1208" y="1353" class="n">15</text><text x="1228" y="1353" class="n">16</text>
</g>

<!-- ECM connector faces -->
<g class="b"><ellipse cx="121" cy="1464" rx="23" ry="13"/><ellipse cx="424" cy="1464" rx="23" ry="13"/><ellipse cx="734" cy="1464" rx="23" ry="13"/><ellipse cx="1092" cy="1464" rx="23" ry="13"/></g>
<g style="font-size:14px">
<text x="86" y="1469">B:</text><text x="121" y="1469">B135</text><text x="152" y="1469" style="text-anchor:start">(GRAY)</text>
<text x="389" y="1469">C:</text><text x="424" y="1469">B136</text><text x="455" y="1469" style="text-anchor:start">(GRAY)</text>
<text x="699" y="1469">A:</text><text x="734" y="1469">B134</text><text x="765" y="1469" style="text-anchor:start">(GRAY)</text>
<text x="1057" y="1469">D:</text><text x="1092" y="1469">B137</text><text x="1123" y="1469" style="text-anchor:start">(GRAY)</text>
</g>
<!-- B135 -->
<g class="c">
<rect x="38" y="1490" width="20" height="19"/><rect x="58" y="1490" width="20" height="19"/><rect x="100" y="1496" width="20" height="13"/><rect x="126" y="1496" width="20" height="13"/><rect x="178" y="1490" width="20" height="19"/><rect x="198" y="1490" width="20" height="19"/>
<rect x="38" y="1509" width="20" height="19"/><rect x="58" y="1509" width="20" height="19"/><rect x="78" y="1509" width="20" height="19"/><rect x="98" y="1509" width="20" height="19"/><rect x="118" y="1509" width="20" height="19"/><rect x="138" y="1509" width="20" height="19"/><rect x="158" y="1509" width="20" height="19"/><rect x="178" y="1509" width="20" height="19"/><rect x="198" y="1509" width="20" height="19"/>
<rect x="38" y="1528" width="20" height="19"/><rect x="58" y="1528" width="20" height="19"/><rect x="98" y="1528" width="20" height="19"/><rect x="118" y="1528" width="20" height="19"/><rect x="138" y="1528" width="20" height="19"/><rect x="178" y="1528" width="20" height="19"/><rect x="198" y="1528" width="20" height="19"/>
</g>
<g>
<text x="48" y="1504" class="n">1</text><text x="68" y="1504" class="n">2</text><text x="188" y="1504" class="n">3</text><text x="208" y="1504" class="n">4</text>
<text x="48" y="1523" class="n">5</text><text x="68" y="1523" class="n">6</text><text x="88" y="1523" class="n">7</text><text x="108" y="1523" class="n">8</text><text x="128" y="1523" class="n">9</text><text x="148" y="1523" class="n">10</text><text x="168" y="1523" class="n">11</text><text x="188" y="1523" class="n">12</text><text x="208" y="1523" class="n">13</text>
<text x="48" y="1542" class="n">14</text><text x="68" y="1542" class="n">15</text><text x="108" y="1542" class="n">16</text><text x="128" y="1542" class="n">17</text><text x="148" y="1542" class="n">18</text><text x="188" y="1542" class="n">19</text><text x="208" y="1542" class="n">20</text>
</g>
<!-- B136 -->
<g class="c">
<rect x="316" y="1488" width="20" height="19"/><rect x="336" y="1488" width="20" height="19"/><rect x="356" y="1488" width="20" height="19"/><rect x="383" y="1496" width="20" height="11"/><rect x="444" y="1496" width="20" height="11"/><rect x="476" y="1488" width="20" height="19"/><rect x="496" y="1488" width="20" height="19"/><rect x="516" y="1488" width="20" height="19"/>
<rect x="316" y="1507" width="20" height="19"/><rect x="336" y="1507" width="20" height="19"/><rect x="356" y="1507" width="20" height="19"/><rect x="376" y="1507" width="20" height="19"/><rect x="396" y="1507" width="20" height="19"/><rect x="416" y="1507" width="20" height="19"/><rect x="436" y="1507" width="20" height="19"/><rect x="456" y="1507" width="20" height="19"/><rect x="476" y="1507" width="20" height="19"/><rect x="496" y="1507" width="20" height="19"/><rect x="516" y="1507" width="20" height="19"/>
<rect x="316" y="1526" width="20" height="19"/><rect x="336" y="1526" width="20" height="19"/><rect x="356" y="1526" width="20" height="19"/><rect x="396" y="1526" width="20" height="19"/><rect x="416" y="1526" width="20" height="19"/><rect x="436" y="1526" width="20" height="19"/><rect x="456" y="1526" width="20" height="19"/><rect x="496" y="1526" width="20" height="19"/><rect x="516" y="1526" width="20" height="19"/>
</g>
<g>
<text x="326" y="1502" class="n">1</text><text x="346" y="1502" class="n">2</text><text x="366" y="1502" class="n">3</text><text x="486" y="1502" class="n">4</text><text x="506" y="1502" class="n">5</text><text x="526" y="1502" class="n">6</text>
<text x="326" y="1521" class="n">7</text><text x="346" y="1521" class="n">8</text><text x="366" y="1521" class="n">9</text><text x="386" y="1521" class="n">10</text><text x="406" y="1521" class="n">11</text><text x="426" y="1521" class="n">12</text><text x="446" y="1521" class="n">13</text><text x="466" y="1521" class="n">14</text><text x="486" y="1521" class="n">15</text><text x="506" y="1521" class="n">16</text><text x="526" y="1521" class="n">17</text>
<text x="326" y="1540" class="n">18</text><text x="346" y="1540" class="n">19</text><text x="366" y="1540" class="n">20</text><text x="406" y="1540" class="n">21</text><text x="426" y="1540" class="n">22</text><text x="446" y="1540" class="n">23</text><text x="466" y="1540" class="n">24</text><text x="506" y="1540" class="n">25</text><text x="526" y="1540" class="n">26</text>
</g>
<!-- B134 -->
<g class="c">
<rect x="614" y="1490" width="20" height="19"/><rect x="634" y="1490" width="20" height="19"/><rect x="654" y="1490" width="20" height="19"/><rect x="681" y="1498" width="20" height="11"/><rect x="743" y="1498" width="20" height="11"/><rect x="774" y="1490" width="20" height="19"/><rect x="794" y="1490" width="20" height="19"/><rect x="814" y="1490" width="20" height="19"/><rect x="834" y="1490" width="20" height="19"/>
<rect x="614" y="1509" width="20" height="19"/><rect x="634" y="1509" width="20" height="19"/><rect x="654" y="1509" width="20" height="19"/><rect x="674" y="1509" width="20" height="19"/><rect x="694" y="1509" width="20" height="19"/><rect x="714" y="1509" width="20" height="19"/><rect x="734" y="1509" width="20" height="19"/><rect x="754" y="1509" width="20" height="19"/><rect x="774" y="1509" width="20" height="19"/><rect x="794" y="1509" width="20" height="19"/><rect x="814" y="1509" width="20" height="19"/><rect x="834" y="1509" width="20" height="19"/>
<rect x="614" y="1528" width="20" height="19"/><rect x="634" y="1528" width="20" height="19"/><rect x="674" y="1528" width="20" height="19"/><rect x="694" y="1528" width="20" height="19"/><rect x="734" y="1528" width="20" height="19"/><rect x="754" y="1528" width="20" height="19"/><rect x="774" y="1528" width="20" height="19"/><rect x="814" y="1528" width="20" height="19"/><rect x="834" y="1528" width="20" height="19"/>
</g>
<g>
<text x="624" y="1504" class="n">1</text><text x="644" y="1504" class="n">2</text><text x="664" y="1504" class="n">3</text><text x="784" y="1504" class="n">4</text><text x="804" y="1504" class="n">5</text><text x="824" y="1504" class="n">6</text><text x="844" y="1504" class="n">7</text>
<text x="624" y="1523" class="n">8</text><text x="644" y="1523" class="n">9</text><text x="664" y="1523" class="n">10</text><text x="684" y="1523" class="n">11</text><text x="704" y="1523" class="n">12</text><text x="724" y="1523" class="n">13</text><text x="744" y="1523" class="n">14</text><text x="764" y="1523" class="n">15</text><text x="784" y="1523" class="n">16</text><text x="804" y="1523" class="n">17</text><text x="824" y="1523" class="n">18</text><text x="844" y="1523" class="n">19</text>
<text x="624" y="1542" class="n">20</text><text x="644" y="1542" class="n">21</text><text x="684" y="1542" class="n">22</text><text x="704" y="1542" class="n">23</text><text x="744" y="1542" class="n">24</text><text x="764" y="1542" class="n">25</text><text x="784" y="1542" class="n">26</text><text x="824" y="1542" class="n">27</text><text x="844" y="1542" class="n">28</text>
</g>
<!-- B137 -->
<g class="c">
<rect x="942" y="1490" width="16.4" height="19"/><rect x="958.4" y="1490" width="16.4" height="19"/><rect x="991.2" y="1490" width="16.4" height="19"/><rect x="1007.6" y="1490" width="16.4" height="19"/><rect x="1026" y="1498" width="14" height="11"/><rect x="1075" y="1498" width="14" height="11"/><rect x="1089.6" y="1490" width="16.4" height="19"/><rect x="1106" y="1490" width="16.4" height="19"/><rect x="1155.2" y="1490" width="16.4" height="19"/><rect x="1171.6" y="1490" width="16.4" height="19"/>
<rect x="942" y="1509" width="246" height="19"/>
<rect x="942" y="1528" width="16.4" height="19"/><rect x="958.4" y="1528" width="16.4" height="19"/><rect x="991.2" y="1528" width="16.4" height="19"/><rect x="1007.6" y="1528" width="16.4" height="19"/><rect x="1024" y="1528" width="16.4" height="19"/><rect x="1040.4" y="1528" width="16.4" height="19"/><rect x="1073.2" y="1528" width="16.4" height="19"/><rect x="1089.6" y="1528" width="16.4" height="19"/><rect x="1106" y="1528" width="16.4" height="19"/><rect x="1122.4" y="1528" width="16.4" height="19"/><rect x="1155.2" y="1528" width="16.4" height="19"/><rect x="1171.6" y="1528" width="16.4" height="19"/>
</g>
<path class="t" style="stroke-width:1.5" d="M958.4 1509 V1528 M974.8 1509 V1528 M991.2 1509 V1528 M1007.6 1509 V1528 M1024 1509 V1528 M1040.4 1509 V1528 M1056.8 1509 V1528 M1073.2 1509 V1528 M1089.6 1509 V1528 M1106 1509 V1528 M1122.4 1509 V1528 M1138.8 1509 V1528 M1155.2 1509 V1528 M1171.6 1509 V1528"/>
<g style="font-size:12px">
<text x="950" y="1504" class="n">1</text><text x="966" y="1504" class="n">2</text><text x="999" y="1504" class="n">3</text><text x="1016" y="1504" class="n">4</text><text x="1098" y="1504" class="n">5</text><text x="1114" y="1504" class="n">6</text><text x="1163" y="1504" class="n">7</text><text x="1180" y="1504" class="n">8</text>
<text x="950" y="1523" class="n">9</text><text x="966" y="1523" class="n">10</text><text x="983" y="1523" class="n">11</text><text x="999" y="1523" class="n">12</text><text x="1016" y="1523" class="n">13</text><text x="1032" y="1523" class="n">14</text><text x="1049" y="1523" class="n">15</text><text x="1065" y="1523" class="n">16</text><text x="1081" y="1523" class="n">17</text><text x="1098" y="1523" class="n">18</text><text x="1114" y="1523" class="n">19</text><text x="1131" y="1523" class="n">20</text><text x="1147" y="1523" class="n">21</text><text x="1163" y="1523" class="n">22</text><text x="1180" y="1523" class="n">23</text>
<text x="950" y="1542" class="n">24</text><text x="966" y="1542" class="n">25</text><text x="999" y="1542" class="n">26</text><text x="1016" y="1542" class="n">27</text><text x="1032" y="1542" class="n">28</text><text x="1049" y="1542" class="n">29</text><text x="1081" y="1542" class="n">30</text><text x="1098" y="1542" class="n">31</text><text x="1114" y="1542" class="n">32</text><text x="1131" y="1542" class="n">33</text><text x="1163" y="1542" class="n">34</text><text x="1180" y="1542" class="n">35</text>
</g>
</svg>
</body></html>
